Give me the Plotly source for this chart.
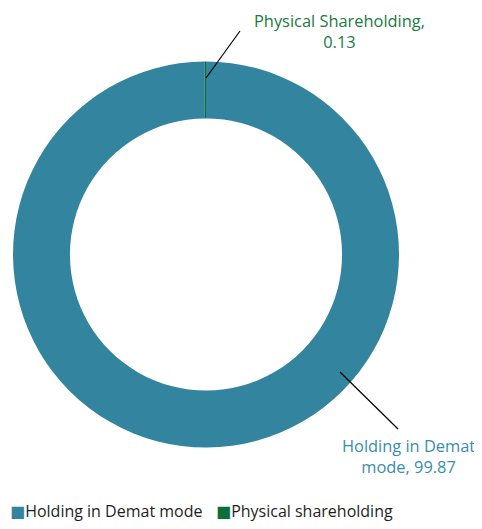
import plotly.graph_objects as go

# Données
categories = ["Holding in Demat mode", "Physical shareholding"]
valeurs = [99.87, 0.13]
couleurs = ["#33849E", "#0B6F3C"]
etiquettes = ["Holding in Demat<br>mode, 99.87", "Physical Shareholding,<br>0.13"]
couleurs_etiquettes = ["#3A8DAA", "#1C7A40"]

# La page HTML ajoute une marge de 8 px autour de la figure : on la compense
# (sans dépasser la fenêtre, pour éviter toute barre de défilement).
OFFSET = 8
W, H = 482 - OFFSET, 529 - 2 * OFFSET
MARGE_BAS = 40
H_PLOT = H - MARGE_BAS


def px_x(x):
    # x mesuré sur l'image de référence
    return (x - OFFSET) / W


def px_y(y):
    # y mesuré depuis le haut de l'image de référence
    return 1 - (y - OFFSET) / H_PLOT


fig = go.Figure(go.Pie(
    labels=categories,
    values=valeurs,
    marker=dict(colors=couleurs, line=dict(width=0)),
    hole=0.705,
    sort=False,
    direction="clockwise",
    rotation=0,
    textinfo="none",
    hoverinfo="label+value",
    domain=dict(x=[px_x(13), px_x(399)], y=[px_y(447.5), px_y(61.5)]),
))

# Lignes de rappel vers les étiquettes
fig.add_shape(type="line", xref="paper", yref="paper",
              x0=px_x(240), y0=px_y(31), x1=px_x(206), y1=px_y(78),
              line=dict(color="black", width=1.2))
fig.add_shape(type="line", xref="paper", yref="paper",
              x0=px_x(340), y0=px_y(372), x1=px_x(398), y1=px_y(429),
              line=dict(color="black", width=1.2))

# Étiquettes des parts
fig.add_annotation(xref="paper", yref="paper", x=px_x(408), y=px_y(456),
                   xanchor="center", yanchor="middle",
                   text=etiquettes[0], showarrow=False, align="center",
                   font=dict(color=couleurs_etiquettes[0], size=16.4, family="Open Sans"))
fig.add_annotation(xref="paper", yref="paper", x=px_x(339), y=px_y(31),
                   xanchor="center", yanchor="middle",
                   text=etiquettes[1], showarrow=False, align="center",
                   font=dict(color=couleurs_etiquettes[1], size=16.4, family="Open Sans"))

# Légende en bas : carré de couleur collé au libellé, comme sur l'original
for cat, coul, x_ref in zip(categories, couleurs, [8, 214]):
    fig.add_annotation(
        xref="paper", yref="paper", x=px_x(x_ref), y=px_y(511),
        xanchor="left", yanchor="middle", showarrow=False,
        text=f"<span style='color:{coul};font-family:DejaVu Sans'>■</span>{cat}",
        font=dict(color="#1E1E1E", size=16, family="Open Sans"),
    )

fig.update_layout(
    width=W, height=H,
    margin=dict(l=0, r=0, t=0, b=MARGE_BAS, autoexpand=False),
    paper_bgcolor="white",
    plot_bgcolor="white",
    font=dict(family="Open Sans", size=16, color="#222222"),
    showlegend=False,
)

fig.write_html("out.html")
